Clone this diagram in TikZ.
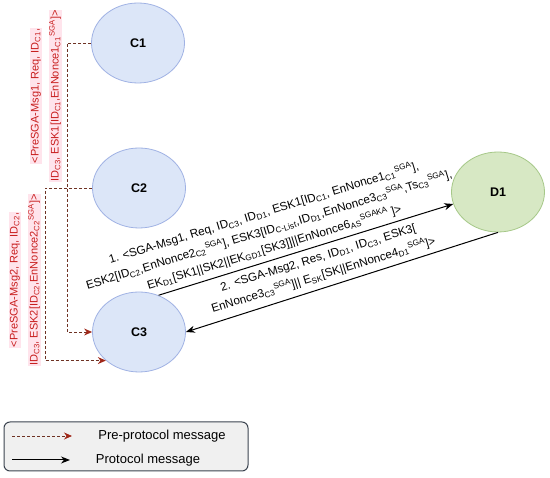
\documentclass[tikz,border=0pt]{standalone}
\usepackage{fontspec}
\setmainfont{Liberation Sans}
\usetikzlibrary{shapes.geometric,arrows.meta}
\definecolor{cfill}{RGB}{220,230,248}
\definecolor{cdraw}{RGB}{160,178,228}
\definecolor{dfill}{RGB}{215,232,196}
\definecolor{ddraw}{RGB}{166,200,136}
\definecolor{redtxt}{RGB}{200,30,30}
\definecolor{pinkbg}{RGB}{255,228,236}
\definecolor{dashc}{RGB}{110,50,35}
\definecolor{arrred}{RGB}{160,40,25}
\definecolor{legfill}{RGB}{240,240,240}
\definecolor{legdraw}{RGB}{60,68,80}
\newcommand{\sbx}[1]{\textsubscript{#1}}
\newcommand{\spx}[1]{\textsuperscript{#1}}
\newcommand{\pk}[1]{\colorbox{pinkbg}{#1}}
\setlength{\fboxsep}{0.8pt}
\begin{document}
\begin{tikzpicture}[x=1pt,y=-1pt,
 ent/.style={ellipse,draw=cdraw,fill=cfill,line width=0.8pt,minimum width=93pt,minimum height=80pt,inner sep=0pt,font=\fontsize{12.5}{14}\selectfont\bfseries},
 dent/.style={ent,draw=ddraw,fill=dfill},
 premsg/.style={draw=dashc,dash pattern=on 3pt off 2pt,line width=0.9pt,-{Stealth[length=8pt,width=7pt,color=arrred]}},
 protmsg/.style={draw=black,line width=1pt,-{Stealth[length=9pt,width=7pt]}},
 redlbl/.style={rotate=90,align=center,text=redtxt,font=\fontsize{11}{20}\selectfont,inner sep=0pt},
 msglbl/.style={rotate=17,align=center,font=\fontsize{11.7}{18}\selectfont,inner sep=0pt},
 legtxt/.style={font=\fontsize{13}{15}\selectfont,inner sep=0pt},
]
\useasboundingbox (0,0) rectangle (550,478);
\fill[white] (0,0) rectangle (550,478);

\node[ent] (c1) at (138,43) {C1};
\node[ent] (c2) at (139,188) {C2};
\node[ent] (c3) at (139,332) {C3};
\node[dent] (d1) at (498,192) {D1};

\draw[premsg] (c1.west) -- ++(-24,0) |- (c3.west);
\draw[premsg] (c2.west) -- ++(-47,0) |- (c3.south west);

\node[redlbl] (l1) at (46,96) {\pk{<PreSGA-Msg1, Req, ID\sbx{C1},}\\ \pk{ID\sbx{C3}, ESK1[ID\sbx{C1},EnNonce1\sbx{C1}\spx{SGA}]>}};
\node[redlbl] (l2) at (25,280) {\pk{<PreSGA-Msg2, Req, ID\sbx{C2},}\\ \pk{ID\sbx{C3}, ESK2[ID\sbx{C2},EnNonce2\sbx{C2}\spx{SGA}]>}};

\draw[protmsg] (c3.62) -- (d1.195);
\draw[protmsg] (d1.south) -- (c3.east);

\node[msglbl] (m1) at (269,230) {1. <SGA-Msg1, Req, ID\sbx{C3}, ID\sbx{D1}, ESK1[ID\sbx{C1}, EnNonce1\sbx{C1}\spx{SGA}],\\
ESK2[ID\sbx{C2},EnNonce2\sbx{C2}\spx{SGA}], ESK3[ID\sbx{C-List},ID\sbx{D1},EnNonce3\sbx{C3}\spx{SGA},Ts\sbx{C3}\spx{SGA}],\\
EK\sbx{D1}[SK1||SK2||EK\sbx{GD1}[SK3]]||EnNonce6\sbx{AS}\spx{SGAKA} ]>};

\node[msglbl] (m2) at (321,267) {2. <SGA-Msg2, Res, ID\sbx{D1}, ID\sbx{C3}, ESK3[\\
EnNonce3\sbx{C3}\spx{SGA}]|| E\sbx{SK}[SK||EnNonce4\sbx{D1}\spx{SGA}]>};

\node[draw=legdraw,fill=legfill,rounded corners=6pt,line width=1pt,minimum width=244pt,minimum height=49pt,inner sep=0pt] (leg) at (126,446.5) {};
\coordinate (la1) at (12,436);
\coordinate (lb1) at (72,436);
\coordinate (la2) at (12,460);
\coordinate (lb2) at (70,460);
\draw[premsg] (la1) -- (lb1);
\draw[protmsg] (la2) -- (lb2);
\node[legtxt] (lt1) at (162,436) {Pre-protocol message};
\node[legtxt] (lt2) at (148,460) {Protocol message};
\end{tikzpicture}
\end{document}
